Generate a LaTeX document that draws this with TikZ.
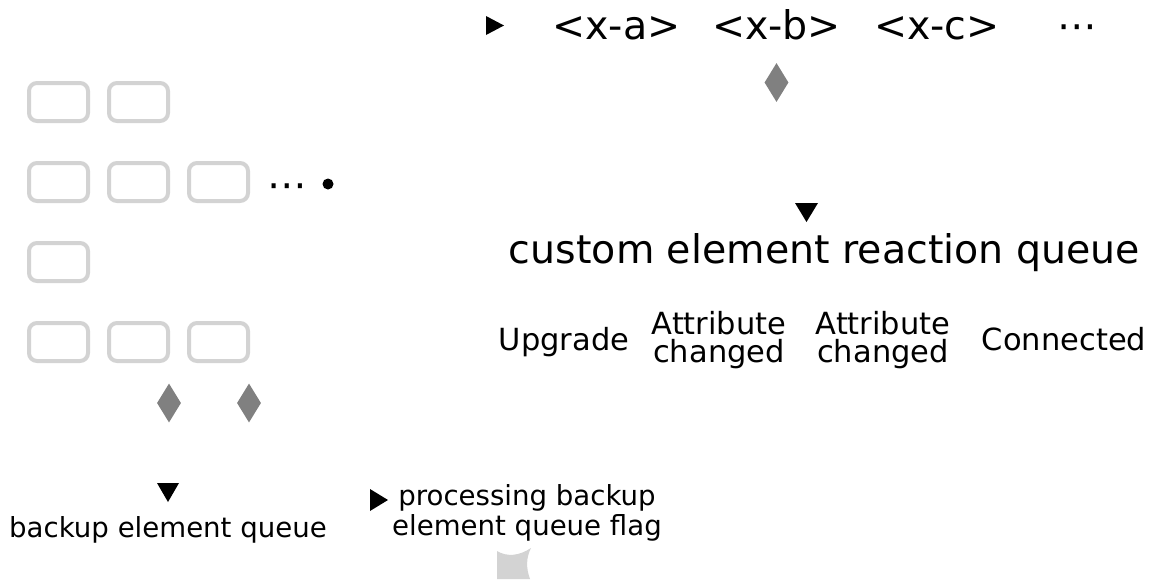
\documentclass[tikz,border=0pt]{standalone}
\usepackage{fontspec}
\setmainfont{DejaVu Sans}
\usetikzlibrary{shapes.geometric}
\definecolor{slotgray}{HTML}{D3D3D3}
\definecolor{gemgray}{HTML}{808080}

\begin{document}
\begin{tikzpicture}[x=1pt,y=-1pt,
				slot/.style={
					draw=slotgray,
					line width=4pt,
					rounded corners=8pt,
					minimum width=59pt,
					minimum height=38pt,
					inner sep=0pt
				},
				gem/.style={diamond,fill=gemgray,inner sep=0pt,minimum width=24pt,minimum height=39pt},
				head/.style={fill=black},
				title/.style={inner sep=0pt,anchor=base,font=\fontsize{39.5}{44}\selectfont},
				kind/.style={inner sep=0pt,anchor=base,align=center,font=\fontsize{30.5}{28}\selectfont},
				note/.style={inner sep=0pt,anchor=base,align=center,font=\fontsize{27.6}{30}\selectfont}
				]
				\useasboundingbox (0,0) rectangle (1154,579);
				% backup element queue slots
				\node[slot] (s11) at (58.5,102) {};
				\node[slot] (s12) at (138.5,102) {};
				\node[slot] (s21) at (58.5,182) {};
				\node[slot] (s22) at (138.5,182) {};
				\node[slot] (s23) at (218.5,182) {};
				\node[slot] (s31) at (58.5,262) {};
				\node[slot] (s41) at (58.5,342) {};
				\node[slot] (s42) at (138.5,342) {};
				\node[slot] (s43) at (218.5,342) {};
				\node[title] (more) at (287.5,198) {⋯};
				\fill (328,184) circle (5.5);
				
				\node[gem] (g1) at (169,403) {};
				\node[gem] (g2) at (249,403) {};
				\fill[head] (157,483) -- (179,483) -- (168,502) -- cycle;
				\node[note] (backup) at (168,537) {backup element queue};
				\fill[head] (370,489) -- (370,511) -- (388,500) -- cycle;
				\node[note] (flag) at (527,535) {processing backup\\element queue flag};
				\fill[slotgray] (497,551) .. controls (507,557) and (519,556) .. (531,548)
				.. controls (526,558) and (526,568) .. (530,579) -- (497,579) -- cycle;
				
				% custom element reaction queue
				\fill[head] (486,16) -- (486,35) -- (504,25.5) -- cycle;
				\node[title] (xa) at (616.5,39) {<x-a>};
				\node[title] (xb) at (776.5,39) {<x-b>};
				\node[title] (xc) at (937,39) {<x-c>};
				\node[title] (etc) at (1077,39) {⋯};
				\node[gem] (g3) at (776.5,82.5) {};
				\fill[head] (795,203) -- (818,203) -- (806.5,222) -- cycle;
				\node[title] (queue) at (824.5,263) {custom element reaction queue};
				\node[kind] (upgrade) at (564,350) {Upgrade};
				\node[kind] (attr1) at (719,362) {Attribute\\changed};
				\node[kind] (attr2) at (883,362) {Attribute\\changed};
				\node[kind] (connected) at (1064,350) {Connected};
			\end{tikzpicture}
\end{document}
